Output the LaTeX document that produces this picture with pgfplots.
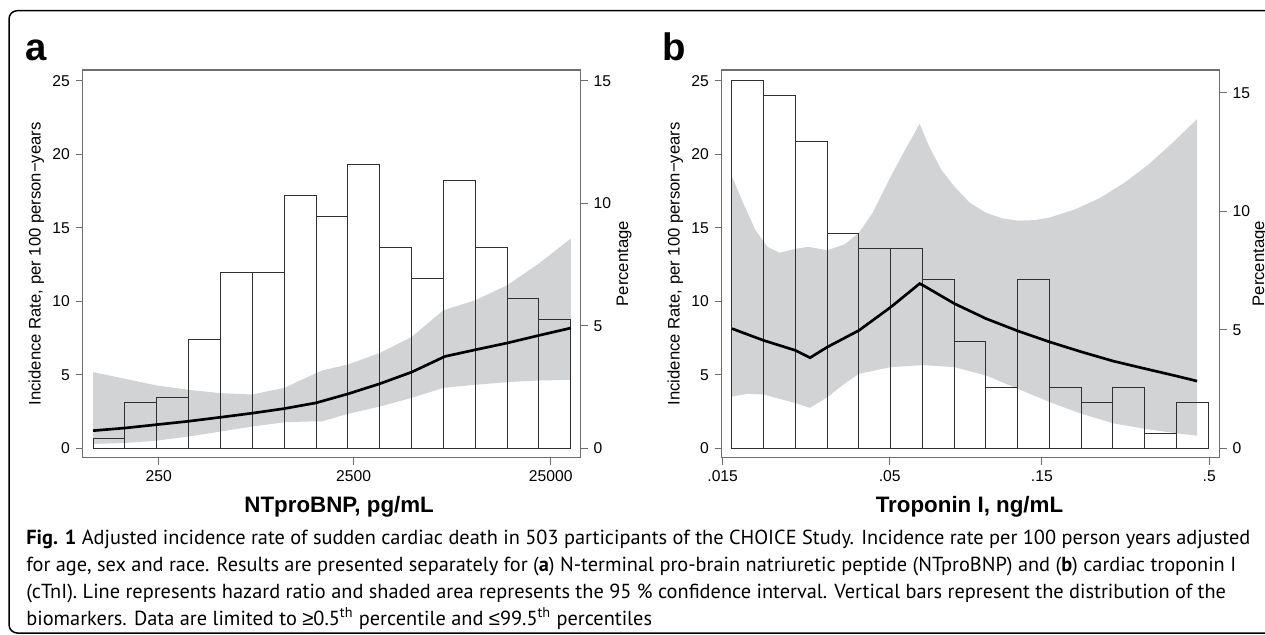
\documentclass[border=0pt]{standalone}
\usepackage{fontspec}
\setmainfont{Liberation Sans}
\newfontfamily\capfont{PT Sans}
\usepackage{pgfplots}
\pgfplotsset{compat=1.18}
\definecolor{frameg}{HTML}{6E6E6E}
\definecolor{bandg}{HTML}{D2D3D5}
\definecolor{barline}{HTML}{303030}
\pgfplotsset{
  base/.style={scale only axis, width=298.8pt, height=232.5pt, anchor=south west,
    /pgf/number format/assume math mode=true,
    tick label style={font=\fontsize{9.4}{10}\selectfont, black},
    label style={font=\fontsize{9.8}{11}\selectfont},
    tick align=outside, major tick length=4.2pt,
    every tick/.style={frameg, line width=0.6pt},
    axis line style={frameg, line width=0.9pt}},
  mainax/.style={base, ymin=-0.626, ymax=25.73, ytick={0,5,10,15,20,25},
    xtick pos=left, ytick pos=left,
    ylabel={Incidence Rate, per 100 person−years},
    every axis y label/.style={at={(axis description cs:-0.093,0.5)},rotate=90,anchor=center},
    every axis x label/.style={at={(axis description cs:#1,-0.1425)},anchor=base,
      font=\fontsize{13.4}{14}\selectfont\bfseries}},
  pctax/.style={base, axis y line*=right, axis x line=none, ytick={0,5,10,15},
    ylabel={Percentage},
    every axis y label/.style={at={(axis description cs:#1,0.5)},rotate=90,anchor=center}},
  lineax/.style={base, hide axis, ymin=-0.626, ymax=25.73}
}
\begin{document}
\begin{tikzpicture}
\useasboundingbox (0,0) rectangle (759pt,-380.4pt);
\clip (0,0) rectangle (759pt,-380.4pt);
\draw[line width=0.9pt, rounded corners=5pt] (5.4pt,-379.8pt) rectangle (775pt,-6.4pt);
\node[anchor=base west, inner sep=0pt, font=\fontsize{23}{23}\selectfont\bfseries] at (15pt,-36pt) {a};
\node[anchor=base west, inner sep=0pt, font=\fontsize{23}{23}\selectfont\bfseries] at (397.2pt,-36pt) {b};

% ---------- Panel a ----------
\begin{axis}[mainax=0.515, at={(49.62pt,-274.5pt)}, xmin=-0.325, xmax=15.31,
  xtick={2.06,8.18,14.37}, xticklabels={250,2500,25000},
  xlabel={NTproBNP, pg/mL}]
\addplot[fill=bandg, draw=none] coordinates {
 (0,5.18) (1,4.73) (2,4.27) (3,3.98) (4,3.75) (5,3.66) (6,4.11) (7,5.11) (7.2,5.3)
 (8,5.7) (9,6.48) (10,7.57) (11,9.39) (12,10.07) (13,11.09) (14,12.57) (15,14.27)
 (15,4.66) (14,4.61) (13,4.5) (12,4.32) (11,4.11) (10,3.43) (9,2.84) (8,2.34)
 (7.2,1.84) (7,1.84) (6,1.77) (5,1.48) (4,1.14) (3,0.8) (2,0.52) (1,0.36) (0,0.3)} -- cycle;
\end{axis}
\begin{axis}[pctax=1.087, at={(49.62pt,-274.5pt)}, xmin=-0.325, xmax=15.31,
  ymin=-0.376, ymax=15.44]
\addplot[ybar interval, draw=barline, fill=none, line width=0.6pt] coordinates {
 (0,0.41) (1,1.88) (2,2.09) (3,4.43) (4,7.16) (5,7.16) (6,10.31) (7,9.46)
 (8,11.58) (9,8.20) (10,6.95) (11,10.94) (12,8.20) (13,6.10) (14,5.25) (15,0)};
\end{axis}
\begin{axis}[lineax, at={(49.62pt,-274.5pt)}, xmin=-0.325, xmax=15.31]
\addplot[black, line width=1.6pt] coordinates {
 (0,1.2) (1,1.38) (2,1.61) (3,1.84) (4,2.11) (5,2.39) (6,2.7) (7,3.09) (8,3.7)
 (9,4.39) (10,5.18) (11.05,6.25) (12,6.7) (13,7.16) (14,7.68) (15,8.18)};
\end{axis}

% ---------- Panel b ----------
\begin{axis}[mainax=0.4976, at={(433.0pt,-274.5pt)}, xmin=-0.324, xmax=15.36,
  xtick={-0.293,4.97,9.76,15.03}, xticklabels={.015,.05,.15,.5},
  xlabel={Troponin I, ng/mL}]
\addplot[fill=bandg, draw=none] coordinates {
 (0,18.48) (0.357,16.66) (0.739,14.84) (1.121,13.7) (1.503,13.3) (2.0,13.57)
 (2.395,13.7) (3.006,13.48) (3.541,13.86) (4.0,14.66) (4.433,16.02) (5.006,18.5)
 (5.452,20.3) (5.911,22.07) (6.217,20.5) (6.599,18.93) (7.006,17.8) (7.49,16.7)
 (8.0,16.02) (8.51,15.64) (9.006,15.48) (9.529,15.52) (10.01,15.7) (10.8,16.25)
 (11.57,17.0) (12.33,18.02) (13.1,19.27) (13.86,20.75) (14.65,22.39)
 (14.65,0.86) (14.01,1.02) (13.02,1.32) (12.01,1.7) (11.02,2.34) (10.01,3.14)
 (9.006,4.05) (8.0,4.95) (7.006,5.52) (6.013,5.66) (5.006,5.52) (4.0,5.07)
 (3.541,4.39) (3.006,3.48) (2.459,2.75) (2.0,3.07) (1.503,3.36) (0.994,3.66)
 (0.484,3.7) (0,3.52)} -- cycle;
\end{axis}
\begin{axis}[pctax=1.081, at={(433.0pt,-274.5pt)}, xmin=-0.324, xmax=15.36,
  ymin=-0.388, ymax=15.957]
\addplot[ybar interval, draw=barline, fill=none, line width=0.6pt] coordinates {
 (0,15.52) (1,14.87) (2,12.93) (3,9.06) (4,8.41) (5,8.41) (6,7.11) (7,4.52)
 (8,2.58) (9,7.11) (10,2.58) (11,1.93) (12,2.58) (13,0.63) (14,1.93) (15,0)};
\end{axis}
\begin{axis}[lineax, at={(433.0pt,-274.5pt)}, xmin=-0.324, xmax=15.36]
\addplot[black, line width=1.6pt] coordinates {
 (0,8.14) (0.994,7.34) (2.0,6.66) (2.459,6.16) (3.006,6.89) (4.0,8.02) (5.006,9.61)
 (5.911,11.2) (6.013,11.09) (7.006,9.84) (8.0,8.82) (9.006,7.98) (10.01,7.23)
 (11.02,6.55) (12.01,5.93) (13.02,5.41) (14.01,4.91) (14.65,4.57)};
\end{axis}

% ---------- Caption ----------
\begin{scope}[every node/.style={anchor=base west, inner sep=0pt, font=\capfont\fontsize{12.2}{12}\selectfont}]
\node at (15.6pt,-326.4pt) {\textbf{Fig. 1} Adjusted incidence rate of sudden cardiac death in 503 participants of the CHOICE Study. Incidence rate per 100 person years adjusted};
\node at (15.6pt,-342.6pt) {for age, sex and race. Results are presented separately for (\textbf{a}) N-terminal pro-brain natriuretic peptide (NTproBNP) and (\textbf{b}) cardiac troponin I};
\node at (15.6pt,-358.8pt) {(cTnI). Line represents hazard ratio and shaded area represents the 95 \% confidence interval. Vertical bars represent the distribution of the};
\node at (15.6pt,-375pt) {biomarkers. Data are limited to {\rmfamily ≥}0.5\textsuperscript{th} percentile and {\rmfamily ≤}99.5\textsuperscript{th} percentiles};
\end{scope}
\end{tikzpicture}
\end{document}
